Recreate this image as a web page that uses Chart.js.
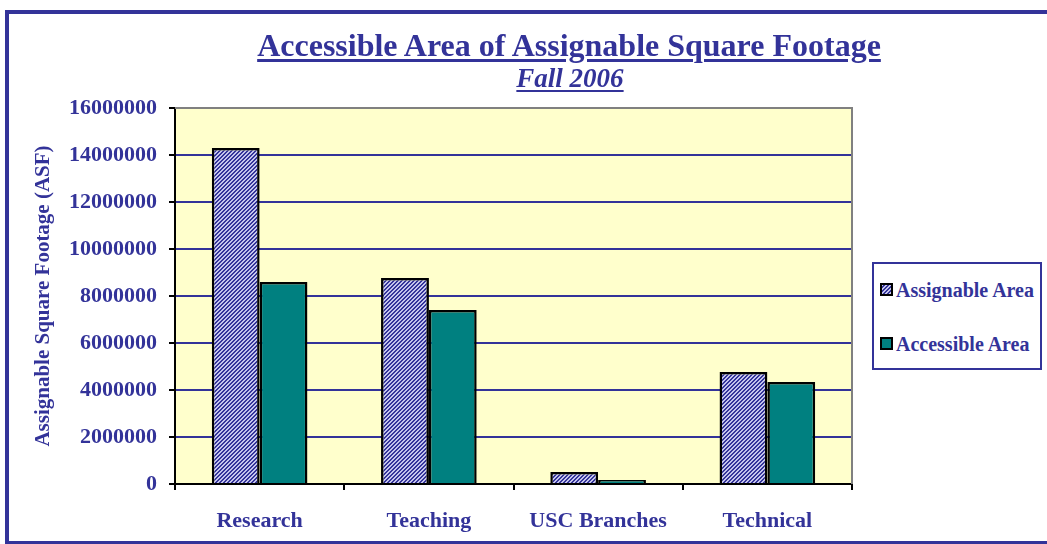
<!DOCTYPE html>
<html><head><meta charset="utf-8">
<script src="https://cdn.jsdelivr.net/npm/chart.js@4/dist/chart.umd.min.js"></script>
<style>
html,body{margin:0;padding:0;background:#fff;}
#wrap{position:relative;width:1047px;height:544px;overflow:hidden;font-family:"Liberation Serif","Times New Roman",serif;}
#frame{position:absolute;left:5px;top:10px;width:1060px;height:527px;border:4px solid #333399;border-right:none;}
canvas{position:absolute;left:0;top:0;}
.t{position:absolute;text-align:center;color:#333399;font-weight:bold;text-decoration:underline;white-space:nowrap;}
#title{left:169px;width:800px;top:29px;font-size:32px;line-height:32px;text-decoration-thickness:3px;text-underline-offset:3px;}
#sub{left:420px;width:300px;top:65px;font-size:27px;line-height:27px;font-style:italic;text-decoration-thickness:2px;text-underline-offset:3px;}
#legend{position:absolute;left:872px;top:262px;width:166px;height:104px;border:2px solid #333399;background:#fff;color:#333399;font-weight:bold;font-size:20px;}
.li{position:absolute;left:6px;white-space:nowrap;line-height:20px;}
.sw{display:inline-block;width:9px;height:9px;border:2px solid #000;margin-right:3px;vertical-align:1px;}
</style></head>
<body><div id="wrap">
<div id="frame"></div>
<canvas id="c" width="1047" height="544"></canvas>
<div class="t" id="title">Accessible Area of Assignable Square Footage</div>
<div class="t" id="sub">Fall 2006</div>
<div id="legend">
 <div class="li" style="top:16px"><span class="sw" id="sw1"></span>Assignable Area</div>
 <div class="li" style="top:70px"><span class="sw" style="background:#008080"></span>Accessible Area</div>
</div>
</div>
<script>
const categories = ["Research", "Teaching", "USC Branches", "Technical"];
const assignableArea = [14300000, 8770000, 510000, 4770000];
const accessibleArea = [8600000, 7400000, 170000, 4340000];
const yTicks = [0, 2000000, 4000000, 6000000, 8000000, 10000000, 12000000, 14000000, 16000000];

function makePattern() {
  const p = document.createElement('canvas');
  p.width = 4; p.height = 4;
  const g = p.getContext('2d');
  g.fillStyle = '#34349a';
  g.fillRect(0, 0, 4, 4);
  g.fillStyle = '#c4c4ec';
  for (let i = 0; i < 4; i++) { g.fillRect((3 - i + 4) % 4, i, 1, 1); g.fillRect((4 - i + 4) % 4 % 4, i, 1, 1); }
  return p;
}
const patCanvas = makePattern();
const ctx = document.getElementById('c').getContext('2d');
const pattern = ctx.createPattern(patCanvas, 'repeat');
document.getElementById('sw1').style.backgroundImage = 'url(' + patCanvas.toDataURL() + ')';

const bgPlugin = {
  id: 'bg',
  beforeDraw(chart) {
    const a = chart.chartArea, c = chart.ctx;
    c.save();
    c.fillStyle = '#FFFFCC';
    c.fillRect(a.left, a.top, a.right - a.left, a.bottom - a.top);
    c.restore();
  },
  afterDatasetsDraw(chart) {
    const a = chart.chartArea, c = chart.ctx;
    c.save();
    c.strokeStyle = '#808080';
    c.lineWidth = 2;
    c.beginPath();
    c.moveTo(a.left, a.top); c.lineTo(a.right, a.top); c.lineTo(a.right, a.bottom);
    c.stroke();
    c.restore();
  }
};

new Chart(ctx, {
  type: 'bar',
  data: {
    labels: categories,
    datasets: [
      { label: 'Assignable Area', data: assignableArea, backgroundColor: pattern, borderColor: '#000', borderWidth: 2.5, borderSkipped: 'bottom' },
      { label: 'Accessible Area', data: accessibleArea, backgroundColor: '#008080', borderColor: '#000', borderWidth: 2.5, borderSkipped: 'bottom' }
    ]
  },
  options: {
    responsive: false,
    animation: false,
    layout: { padding: { left: 0, top: 108, right: 195, bottom: 0 } },
    plugins: { legend: { display: false }, tooltip: { enabled: false } },
    datasets: { bar: { categoryPercentage: 0.565, barPercentage: 1.0 } },
    scales: {
      x: {
        grid: { offset: true, drawOnChartArea: false, tickColor: '#000', tickLength: 6, lineWidth: 2 },
        border: { color: '#000', width: 2 },
        ticks: { color: '#333399', font: { family: 'Liberation Serif', weight: 'bold', size: 22 }, padding: 18 },
        afterFit(s) { s.height = 60; }
      },
      y: {
        min: 0, max: 16000000,
        afterBuildTicks(s) { s.ticks = yTicks.map(v => ({ value: v })); },
        grid: {
          color: c => (c.tick && c.tick.value === 16000000) ? '#808080' : '#333399',
          lineWidth: 2, tickColor: '#000', tickLength: 6
        },
        border: { color: '#000', width: 2 },
        ticks: { color: '#333399', font: { family: 'Liberation Serif', weight: 'bold', size: 22 }, padding: 12, callback: v => String(v) },
        title: { display: true, text: 'Assignable Square Footage (ASF)', color: '#333399', font: { family: 'Liberation Serif', weight: 'bold', size: 21 }, padding: { top: 31, bottom: 0 } },
        afterFit(s) { s.width = 175; }
      }
    }
  },
  plugins: [bgPlugin]
});
</script>
</body></html>
